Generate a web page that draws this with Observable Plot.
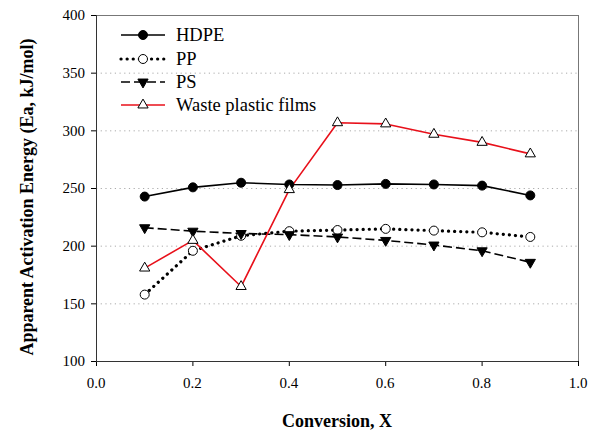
<!DOCTYPE html>
<html>
<head>
<meta charset="utf-8">
<script src="https://cdn.jsdelivr.net/npm/d3@7"></script>
<script src="https://cdn.jsdelivr.net/npm/@observablehq/plot@0.6"></script>
<style>
  html, body { margin: 0; padding: 0; background: #fff; }
  #chart { position: relative; width: 601px; height: 433px; }
  #overlay { position: absolute; left: 0; top: 0; }
</style>
</head>
<body>
<div id="chart"></div>
<script>
const conversion = [0.1, 0.2, 0.3, 0.4, 0.5, 0.6, 0.7, 0.8, 0.9];
const hdpe  = [243, 251, 255, 253.5, 253, 254, 253.5, 252.5, 244];
const pp    = [158, 196, 209, 213, 214, 215, 213.5, 212, 208];
const ps    = [216, 213, 211, 210, 208, 205, 201, 196, 186];
const waste = [181, 205, 165, 249, 307, 306, 297, 290, 280];
const seriesNames = ["HDPE", "PP", "PS", "Waste plastic films"];
const xTicks = [0.0, 0.2, 0.4, 0.6, 0.8, 1.0];
const yTicks = [100, 150, 200, 250, 300, 350, 400];
const gridTicks = [150, 200, 250, 300, 350];
const xTitle = "Conversion, X";
const yTitle = "Apparent Activation Energy (Ea, kJ/mol)";
const serif = "Liberation Serif";

const styles = {
  "HDPE": {stroke: "#000", dash: null, width: 1.6, symbol: "circle", r: 4.5, fill: "#000", rotate: 0, cap: "butt"},
  "PP": {stroke: "#000", dash: "0.1,6", width: 3.2, symbol: "circle", r: 4.5, fill: "#fff", rotate: 0, cap: "round"},
  "PS": {stroke: "#000", dash: "9,4", width: 1.6, symbol: "triangle", r: 3.8, fill: "#000", rotate: 180, cap: "butt"},
  "Waste plastic films": {stroke: "#e8101a", dash: null, width: 1.6, symbol: "triangle", r: 3.8, fill: "#fff", rotate: 0, cap: "butt"}
};
const values = {"HDPE": hdpe, "PP": pp, "PS": ps, "Waste plastic films": waste};
const data = seriesNames.map(n => conversion.map((x, i) => ({series: n, x, y: values[n][i]})));

const marks = [
  Plot.gridY(gridTicks, {stroke: "#aaa", strokeOpacity: 1, strokeDasharray: "1.2,3.5", strokeWidth: 1})
];
seriesNames.forEach((n, k) => {
  const s = styles[n];
  marks.push(Plot.line(data[k], {x: "x", y: "y", stroke: s.stroke, strokeWidth: s.width, strokeDasharray: s.dash, strokeLinecap: s.cap}));
});
seriesNames.forEach((n, k) => {
  const s = styles[n];
  marks.push(Plot.dot(data[k], {x: "x", y: "y", symbol: s.symbol, r: s.r, fill: s.fill, stroke: "#000", strokeWidth: 1, rotate: s.rotate}));
});
marks.push(Plot.frame({stroke: "#777", strokeWidth: 1}));
// tick marks from Plot; tick labels drawn in the overlay from Plot's own scales
marks.push(Plot.axisY({ticks: yTicks, tickSize: 5, tickFormat: () => "", label: null}));
marks.push(Plot.axisX({ticks: xTicks, tickSize: 5, tickFormat: () => "", label: null}));
marks.push(Plot.ruleX([0], {stroke: "#333"}));
marks.push(Plot.ruleY([100], {stroke: "#333"}));

const plot = Plot.plot({
  width: 601,
  height: 433,
  marginLeft: 96,
  marginRight: 23,
  marginTop: 15,
  marginBottom: 72,
  style: {background: "#fff"},
  x: {domain: [0, 1]},
  y: {domain: [100, 400]},
  marks
});
document.getElementById("chart").appendChild(plot);
const sx = plot.scale("x"), sy = plot.scale("y");

// overlay: tick labels, axis titles and legend
const ov = d3.select("#chart").append("svg").attr("id", "overlay").attr("width", 601).attr("height", 433)
  .style("font-family", serif);
ov.selectAll("text.yt").data(yTicks).join("text").attr("class", "yt")
  .attr("x", sx.apply(0) - 11).attr("y", d => sy.apply(d)).attr("dy", "0.35em")
  .attr("text-anchor", "end").style("font-size", "15px").text(d3.format("d"));
ov.selectAll("text.xt").data(xTicks).join("text").attr("class", "xt")
  .attr("x", d => sx.apply(d)).attr("y", sy.apply(100) + 22).attr("dy", "0.35em")
  .attr("text-anchor", "middle").style("font-size", "15px").text(d3.format(".1f"));
ov.append("text").attr("x", 337).attr("y", 427).attr("text-anchor", "middle")
  .style("font-weight", "bold").style("font-size", "18px").text(xTitle);
ov.append("text").attr("transform", "translate(33,197) rotate(-90)").attr("text-anchor", "middle")
  .style("font-weight", "bold").style("font-size", "18px").text(yTitle);

const rowY = [35, 59, 82, 105];
const sym = {circle: d3.symbolCircle, triangle: d3.symbolTriangle};
seriesNames.forEach((n, i) => {
  const s = styles[n];
  const g = ov.append("g").attr("transform", `translate(0,${rowY[i]})`);
  g.append("line").attr("x1", 121).attr("x2", 165).attr("y1", 0).attr("y2", 0)
    .attr("stroke", s.stroke).attr("stroke-width", s.width).attr("stroke-dasharray", s.dash)
    .attr("stroke-linecap", s.cap);
  g.append("path").attr("d", d3.symbol(sym[s.symbol], Math.PI * s.r * s.r)())
    .attr("transform", `translate(143,0) rotate(${s.rotate})`)
    .attr("fill", s.fill).attr("stroke", "#000").attr("stroke-width", 1);
  g.append("text").attr("x", 176).attr("y", 0).attr("dy", "0.35em").text(n)
    .style("font-size", "18.5px");
});
</script>
</body>
</html>
